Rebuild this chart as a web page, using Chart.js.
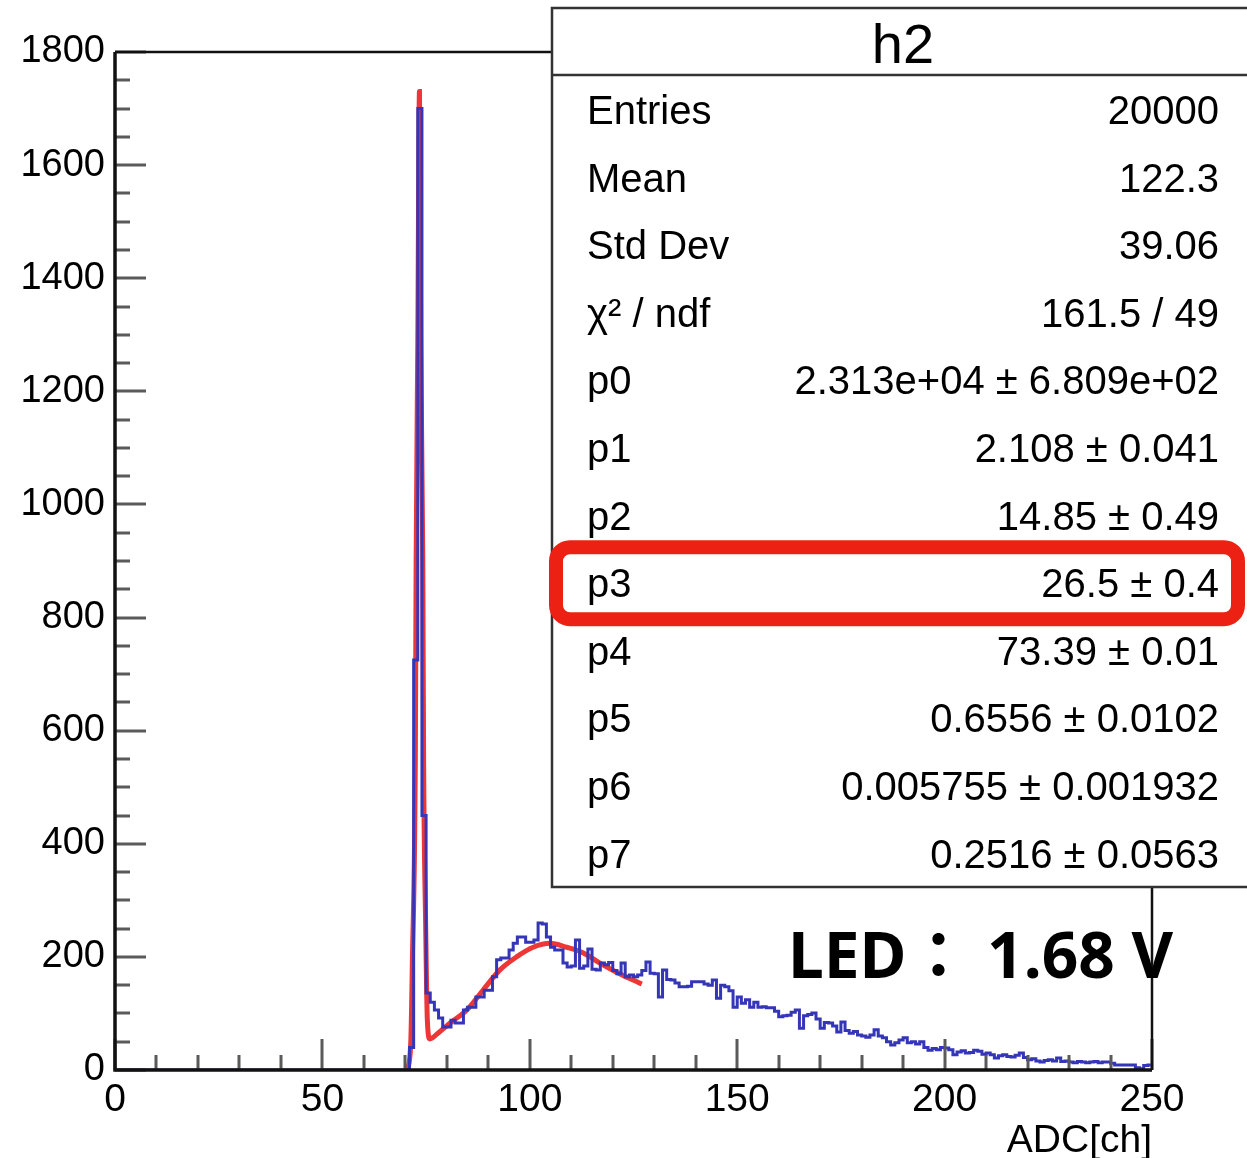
<!DOCTYPE html>
<html lang="en">
<head>
<meta charset="UTF-8">
<title>h2 - ADC spectrum</title>
<script src="https://cdn.jsdelivr.net/npm/chart.js"></script>
<style>
    html, body { margin: 0; padding: 0; background: #fff; }
    #wrap { width: 1247px; height: 1158px; }
</style>
</head>
<body>
<div id="wrap"><canvas id="h2Chart" width="1247" height="1158"></canvas></div>
<script>
// histogram h2: 250 bins of 1 ADC channel, starting at 0
const binStart = 0;
const binWidth = 1;
const counts = [
    0, 0, 0, 0, 0, 0, 0, 0, 0, 0,
    0, 0, 0, 0, 0, 0, 0, 0, 0, 0,
    0, 0, 0, 0, 0, 0, 0, 0, 0, 0,
    0, 0, 0, 0, 0, 0, 0, 0, 0, 0,
    0, 0, 0, 0, 0, 0, 0, 0, 0, 0,
    0, 0, 0, 0, 0, 0, 0, 0, 0, 0,
    0, 0, 0, 0, 0, 0, 0, 0, 0, 0,
    0, 40, 725, 1700, 450, 136, 120, 106, 92, 76,
    76, 88, 83, 83, 106, 111, 111, 129, 129, 141,
    141, 165, 195, 198, 198, 212, 224, 235, 235, 226,
    226, 230, 260, 258, 235, 217, 212, 212, 189, 182,
    184, 230, 180, 184, 214, 178, 177, 189, 186, 190,
    176, 170, 189, 165, 168, 165, 168, 176, 191, 171,
    170, 129, 177, 160, 159, 154, 147, 147, 148, 156,
    156, 156, 152, 150, 159, 127, 150, 147, 140, 111,
    129, 118, 124, 111, 120, 111, 112, 110, 110, 104,
    94, 96, 97, 102, 106, 74, 96, 98, 101, 90,
    74, 84, 83, 78, 67, 85, 70, 65, 68, 62,
    60, 58, 62, 71, 60, 57, 50, 44, 48, 53,
    57, 48, 50, 46, 50, 40, 35, 38, 36, 40,
    39, 36, 27, 32, 34, 30, 31, 35, 33, 28,
    30, 27, 21, 25, 27, 24, 23, 26, 30, 22,
    18, 20, 16, 14, 17, 18, 16, 21, 15, 16,
    14, 13, 15, 14, 13, 14, 15, 13, 14, 14,
    12, 9, 9, 9, 9, 9, 4, 2, 8, 9
];

// fitted function as drawn
const fitX = [70.5, 71.3, 71.7, 72.4, 72.6, 73.0, 73.4, 73.7, 74.2, 74.4, 74.9, 75.3, 75.9,
              78.0, 80.8, 84.8, 88.7, 92.8, 96.8, 100.8, 104.9, 108.9, 112.9, 116.9, 120.9, 124.9, 127.0];
const fitY = [0, 48, 195, 548, 900, 1290, 1730, 1290, 900, 548, 253, 88, 55,
              66, 83, 106, 141, 177, 200, 217, 224, 217, 207, 189, 173, 159, 152];

const xTicks = [0, 50, 100, 150, 200, 250];
const yTicks = [0, 200, 400, 600, 800, 1000, 1200, 1400, 1600, 1800];
const xTitle = 'ADC[ch]';

// stats box
const statTitle = 'h2';
const statLabels = ['Entries', 'Mean', 'Std Dev', 'χ² / ndf', 'p0', 'p1', 'p2', 'p3', 'p4', 'p5', 'p6', 'p7'];
const statValues = ['20000', '122.3', '39.06', '161.5 / 49',
    '2.313e+04 ± 6.809e+02', '2.108 ± 0.041', '14.85 ± 0.49', '26.5 ± 0.4',
    '73.39 ± 0.01', '0.6556 ± 0.0102', '0.005755 ± 0.001932', '0.2516 ± 0.0563'];
const highlightRow = 'p3';
const noteText = 'LED： 1.68 V';

const FONT = "'Liberation Sans', Arial, Helvetica, sans-serif";

// histogram as step line: one point per bin low edge, plus the last upper edge
const histPoints = counts.map((c, i) => ({ x: binStart + i * binWidth, y: c }));
histPoints.push({ x: binStart + counts.length * binWidth, y: counts[counts.length - 1] });
const fitPoints = fitX.map((x, i) => ({ x: x, y: fitY[i] }));

// ROOT style: ticks inside the frame, plus the top/right frame lines
const frameTicks = {
    id: 'frameTicks',
    afterDatasetsDraw(chart) {
        const { ctx, chartArea: a, scales: { x, y } } = chart;
        ctx.save();
        ctx.strokeStyle = '#5a5a5a';
        ctx.lineWidth = 3;
        ctx.beginPath();
        for (let v = 0; v <= 1800; v += 50) {
            const py = Math.round(y.getPixelForValue(v));
            const len = v % 200 === 0 ? 31 : 15;
            ctx.moveTo(a.left, py);
            ctx.lineTo(a.left + len, py);
        }
        for (let v = 0; v <= 250; v += 10) {
            const px = Math.round(x.getPixelForValue(v));
            const len = v % 50 === 0 ? 31 : 15;
            ctx.moveTo(px, a.bottom);
            ctx.lineTo(px, a.bottom - len);
        }
        ctx.stroke();

        ctx.strokeStyle = '#111';
        ctx.lineWidth = 2.5;
        ctx.beginPath();
        ctx.moveTo(a.left, a.top);
        ctx.lineTo(a.right, a.top);
        ctx.lineTo(a.right, a.bottom);
        ctx.stroke();

        ctx.lineWidth = 3.5;
        ctx.beginPath();
        ctx.moveTo(a.left, a.top);
        ctx.lineTo(a.left, a.bottom);
        ctx.lineTo(a.right, a.bottom);
        ctx.stroke();
        ctx.restore();
    }
};

// stats box + the hand-drawn highlight + the LED note
const statsBox = {
    id: 'statsBox',
    afterDraw(chart) {
        const ctx = chart.ctx;
        const left = 552, top = 8, right = 1256, bottom = 887, headerBottom = 75;
        ctx.save();
        ctx.fillStyle = '#fff';
        ctx.fillRect(left, top, right - left, bottom - top);
        ctx.strokeStyle = '#333';
        ctx.lineWidth = 2.5;
        ctx.strokeRect(left, top, right - left, bottom - top);
        ctx.beginPath();
        ctx.moveTo(left, headerBottom);
        ctx.lineTo(right, headerBottom);
        ctx.stroke();

        ctx.fillStyle = '#000';
        ctx.font = '56px ' + FONT;
        ctx.textAlign = 'center';
        ctx.textBaseline = 'alphabetic';
        ctx.fillText(statTitle, 903, 63);

        ctx.font = '40px ' + FONT;
        statLabels.forEach((lab, i) => {
            const base = 124 + i * 67.6;
            ctx.textAlign = 'left';
            ctx.fillText(lab, 587, base);
            ctx.textAlign = 'right';
            ctx.fillText(statValues[i], 1219, base);
        });

        // red highlight around the p3 row
        const hi = statLabels.indexOf(highlightRow);
        const cy = 110 + hi * 67.6;
        ctx.strokeStyle = '#ec2113';
        ctx.lineWidth = 14;
        ctx.lineJoin = 'round';
        ctx.beginPath();
        ctx.roundRect(556, cy - 36, 682, 72, 14);
        ctx.stroke();

        ctx.fillStyle = '#000';
        ctx.textAlign = 'left';
        ctx.font = "bold 64px 'Noto Sans', 'Noto Sans CJK JP', sans-serif";
        ctx.fillText(noteText, 788, 978);
        ctx.restore();
    }
};

new Chart(document.getElementById('h2Chart'), {
    type: 'line',
    data: {
        datasets: [
            {
                label: 'h2',
                data: histPoints,
                stepped: 'before',
                borderColor: '#3535b8',
                borderWidth: 3,
                pointRadius: 0,
                fill: false
            },
            {
                label: 'fit',
                data: fitPoints,
                borderColor: '#ee3636',
                borderWidth: 5,
                pointRadius: 0,
                cubicInterpolationMode: 'monotone',
                fill: false
            }
        ]
    },
    options: {
        responsive: false,
        animation: false,
        events: [],
        layout: { padding: { left: 0, top: 52, right: 95, bottom: 0 } },
        plugins: {
            legend: { display: false },
            tooltip: { enabled: false }
        },
        scales: {
            x: {
                type: 'linear',
                min: 0,
                max: 250,
                afterBuildTicks: s => { s.ticks = xTicks.map(v => ({ value: v })); },
                afterFit: s => { s.height = 88; },
                grid: { display: false, drawTicks: false },
                border: { display: false },
                ticks: {
                    color: '#000',
                    padding: 7,
                    maxRotation: 0,
                    autoSkip: false,
                    callback: v => String(v),
                    font: { family: FONT, size: 39 }
                },
                title: {
                    display: true,
                    text: xTitle,
                    align: 'end',
                    color: '#000',
                    padding: { top: -7, bottom: -7 },
                    font: { family: FONT, size: 39 }
                }
            },
            y: {
                min: 0,
                max: 1800,
                afterBuildTicks: s => { s.ticks = yTicks.map(v => ({ value: v })); },
                afterFit: s => { s.width = 115; },
                grid: { display: false, drawTicks: false },
                border: { display: false },
                ticks: {
                    color: '#000',
                    padding: 10,
                    autoSkip: false,
                    callback: v => String(v),
                    font: { family: FONT, size: 38 }
                }
            }
        }
    },
    plugins: [frameTicks, statsBox]
});
</script>
</body>
</html>
